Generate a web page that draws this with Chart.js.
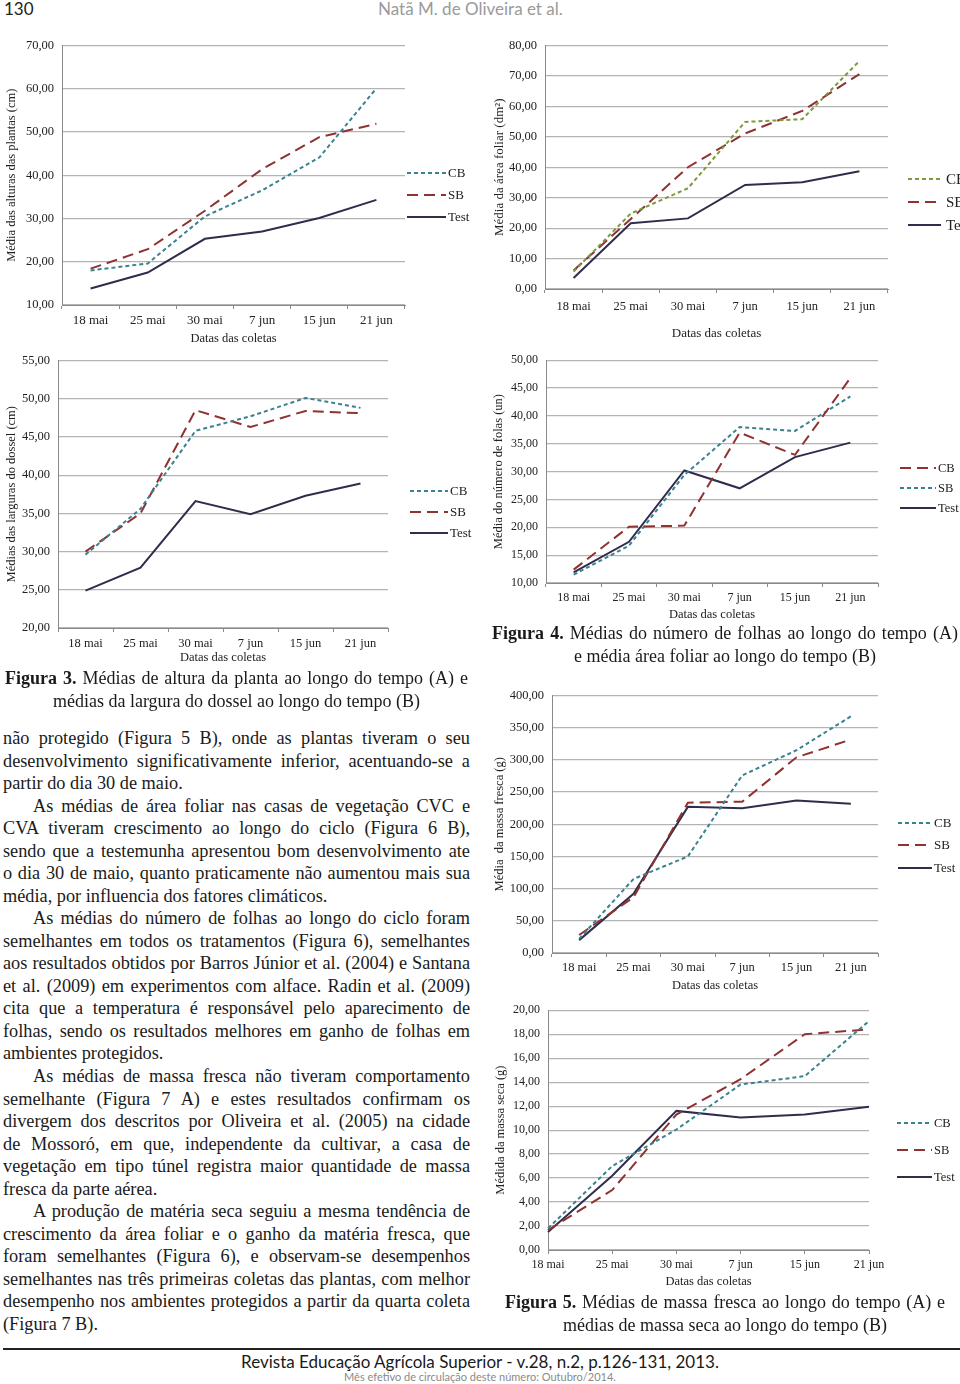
<!DOCTYPE html>
<html>
<head>
<meta charset="utf-8">
<script src="https://cdn.jsdelivr.net/npm/chart.js@4"></script>
<style>
  html, body { margin: 0; padding: 0; background: #fff; overflow: hidden; }
  body { width: 960px; height: 1384px; position: relative; font-family: "Liberation Serif", serif; color: #1a1a1a; }
  canvas { position: absolute; }
  .abs { position: absolute; white-space: nowrap; }
  .hdr { font-family: Lato, "Open Sans", sans-serif; }
  .txt { position: absolute; left: 3px; width: 467px; font-size: 18.3px; line-height: 22.54px; }
  .ln { white-space: nowrap; text-align: justify; text-align-last: justify; height: 22.54px; word-spacing: -2.5px; }
  .ln.last { text-align-last: left; word-spacing: 0; }
  .ln.ind { padding-left: 30px; }
  .cap { position: absolute; font-size: 18px; line-height: 22.5px; text-align: center; }
  .cap .j { text-align: justify; text-align-last: justify; white-space: nowrap; word-spacing: -2px; }
</style>
</head>
<body>

<div class="abs hdr" style="left:4px; top:-2px; font-size:17px; color:#222;">130</div>
<div class="abs hdr" style="left:378px; top:-2px; font-size:17px; color:#9a9a9a;">Natã M. de Oliveira et al.</div>

<canvas id="alturaChart" width="480" height="320" style="left:0; top:30px;"></canvas>
<canvas id="dosselChart" width="480" height="320" style="left:0; top:345px;"></canvas>
<canvas id="areaChart" width="475" height="320" style="left:485px; top:30px;"></canvas>
<canvas id="folhasChart" width="475" height="280" style="left:485px; top:345px;"></canvas>
<canvas id="frescaChart" width="475" height="320" style="left:485px; top:680px;"></canvas>
<canvas id="secaChart" width="475" height="295" style="left:485px; top:995px;"></canvas>

<div class="cap" style="left:5px; top:667px; width:463px;">
  <div class="j"><b>Figura 3.</b> Médias de altura da planta ao longo do tempo (A) e</div>
  <div>médias da largura do dossel ao longo do tempo (B)</div>
</div>

<div class="cap" style="left:492px; top:622px; width:466px;">
  <div class="j"><b>Figura 4.</b> Médias do número de folhas ao longo do tempo (A)</div>
  <div>e média área foliar ao longo do tempo (B)</div>
</div>

<div class="cap" style="left:505px; top:1291px; width:440px;">
  <div class="j"><b>Figura 5.</b> Médias de massa fresca ao longo do tempo (A) e</div>
  <div>médias de massa seca ao longo do tempo (B)</div>
</div>

<div class="txt" style="top:727px;">
  <div class="ln">não protegido (Figura 5 B), onde as plantas tiveram o seu</div>
  <div class="ln">desenvolvimento significativamente inferior, acentuando-se a</div>
  <div class="ln last">partir do dia 30 de maio.</div>
  <div class="ln ind">As médias de área foliar nas casas de vegetação CVC e</div>
  <div class="ln">CVA tiveram crescimento ao longo do ciclo (Figura 6 B),</div>
  <div class="ln">sendo que a testemunha apresentou bom desenvolvimento ate</div>
  <div class="ln">o dia 30 de maio, quanto praticamente não aumentou mais sua</div>
  <div class="ln last">média, por influencia dos fatores climáticos.</div>
  <div class="ln ind">As médias do número de folhas ao longo do ciclo foram</div>
  <div class="ln">semelhantes em todos os tratamentos (Figura 6), semelhantes</div>
  <div class="ln">aos resultados obtidos por Barros Júnior et al. (2004) e Santana</div>
  <div class="ln">et al. (2009) em experimentos com alface. Radin et al. (2009)</div>
  <div class="ln">cita que a temperatura é responsável pelo aparecimento de</div>
  <div class="ln">folhas, sendo os resultados melhores em ganho de folhas em</div>
  <div class="ln last">ambientes protegidos.</div>
  <div class="ln ind">As médias de massa fresca não tiveram comportamento</div>
  <div class="ln">semelhante (Figura 7 A) e estes resultados confirmam os</div>
  <div class="ln">divergem dos descritos por Oliveira et al. (2005) na cidade</div>
  <div class="ln">de Mossoró, em que, independente da cultivar, a casa de</div>
  <div class="ln">vegetação em tipo túnel registra maior quantidade de massa</div>
  <div class="ln last">fresca da parte aérea.</div>
  <div class="ln ind">A produção de matéria seca seguiu a mesma tendência de</div>
  <div class="ln">crescimento da área foliar e o ganho da matéria fresca, que</div>
  <div class="ln">foram semelhantes (Figura 6), e observam-se desempenhos</div>
  <div class="ln">semelhantes nas três primeiras coletas das plantas, com melhor</div>
  <div class="ln">desempenho nos ambientes protegidos a partir da quarta coleta</div>
  <div class="ln last">(Figura 7 B).</div>
</div>

<div style="position:absolute; left:3px; top:1348px; width:957px; height:2px; background:#222;"></div>
<div class="abs hdr" style="left:0; width:960px; text-align:center; top:1351px; font-size:17px; color:#1a1a1a;">Revista Educação Agrícola Superior - v.28, n.2, p.126-131, 2013.</div>
<div class="abs hdr" style="left:0; width:960px; text-align:center; top:1370px; font-size:11px; color:#8a8a8a;">Mês efetivo de circulação deste número: Outubro/2014.</div>

<script>
// ===== dados =====
const coletas = ["18 mai", "25 mai", "30 mai", "7 jun", "15 jun", "21 jun"];

// Figura 3 A - altura das plantas (cm)
const alturaCB   = [18.0, 19.6, 30.5, 36.5, 44.1, 60.1];
const alturaSB   = [18.4, 22.9, 31.8, 41.4, 48.8, 51.9];
const alturaTest = [13.8, 17.5, 25.3, 27.0, 30.1, 34.3];

// Figura 3 B - largura do dossel (cm)
const dosselCB   = [29.6, 35.6, 45.8, 47.7, 50.1, 48.8];
const dosselSB   = [30.0, 35.0, 48.5, 46.3, 48.4, 48.1];
const dosselTest = [24.9, 27.9, 36.6, 34.9, 37.3, 38.9];

// Figura 4 B - area foliar (dm2)
const areaCB   = [5.7, 24.8, 33.1, 54.9, 55.8, 74.9];
const areaSB   = [6.1, 23.0, 40.0, 51.1, 58.5, 70.6];
const areaTest = [3.6, 21.6, 23.2, 34.2, 35.1, 38.7];

// Figura 4 A - numero de folhas (un)
const folhasCB   = [12.4, 20.1, 20.3, 37.0, 33.0, 46.8];
const folhasSB   = [11.5, 16.7, 29.4, 38.0, 37.3, 43.5];
const folhasTest = [11.9, 17.4, 30.2, 27.0, 32.6, 35.2];

// Figura 5 A - massa fresca (g)
const frescaCB   = [22, 115, 150, 275.8, 315, 367.5];
const frescaSB   = [28, 86.6, 233.5, 235, 304, 331.5];
const frescaTest = [20, 92, 227, 224.8, 237, 232];

// Figura 5 B - massa seca (g)
const secaCB   = [1.8, 7.0, 10.05, 13.8, 14.5, 19.1];
const secaSB   = [1.65, 5.0, 11.3, 14.25, 18.0, 18.4];
const secaTest = [1.5, 6.2, 11.6, 11.05, 11.3, 11.95];

// ===== estilos =====
const TEAL = "#3a8290";
const OLIVE = "#7a9a3c";
const RED = "#8e3232";
const NAVY = "#302d4c";
const GRID = "#b4b4b4";

function shortDash(label, data, color) {
    return { label: label, data: data, borderColor: color, borderWidth: 2, borderDash: [4, 3], pointRadius: 0, fill: false, tension: 0 };
}
function longDash(label, data) {
    return { label: label, data: data, borderColor: RED, borderWidth: 2, borderDash: [11, 6], pointRadius: 0, fill: false, tension: 0 };
}
function solid(label, data) {
    return { label: label, data: data, borderColor: NAVY, borderWidth: 2, pointRadius: 0, fill: false, tension: 0 };
}

// legenda desenhada ao lado (estilo Excel)
const sideLegend = {
    id: "sideLegend",
    afterDraw(chart, args, opts) {
        const ctx = chart.ctx;
        chart.data.datasets.forEach((ds, i) => {
            const y = opts.ys[i];
            ctx.save();
            ctx.strokeStyle = ds.borderColor;
            ctx.lineWidth = ds.borderWidth;
            ctx.setLineDash(ds.borderDash || []);
            ctx.beginPath();
            ctx.moveTo(opts.x0, y);
            ctx.lineTo(opts.x1, y);
            ctx.stroke();
            ctx.setLineDash([]);
            ctx.fillStyle = "#222";
            ctx.font = opts.size + "px 'Liberation Serif'";
            ctx.textBaseline = "middle";
            ctx.fillText(ds.label, opts.x1 + (opts.gap || 2), y + 1);
            ctx.restore();
        });
    }
};

function fmt(v) {
    return v.toFixed(2).replace(".", ",");
}

function makeChart(id, datasets, s) {
    new Chart(document.getElementById(id), {
        type: "line",
        data: { labels: coletas, datasets: datasets },
        plugins: [sideLegend],
        options: {
            responsive: false,
            animation: false,
            devicePixelRatio: 1,
            layout: { padding: { top: s.padTop, right: s.padRight, left: 0, bottom: 0 } },
            plugins: {
                legend: { display: false },
                tooltip: { enabled: false },
                sideLegend: s.legend
            },
            scales: {
                x: {
                    offset: s.offset,
                    afterFit: (sc) => { sc.height = s.xH; },
                    grid: { drawOnChartArea: false, drawTicks: true, tickLength: 4, offset: s.offset, color: "#8a8a8a" },
                    border: { display: true, color: "#8a8a8a" },
                    ticks: { color: "#222", padding: s.xPad, maxRotation: 0, font: { family: "Liberation Serif", size: s.xFont } },
                    title: { display: true, text: "Datas das coletas", color: "#222", padding: { top: 0, bottom: s.xTitlePad }, font: { family: "Liberation Serif", size: s.titleSize } }
                },
                y: {
                    min: s.min, max: s.max,
                    afterFit: (sc) => { sc.width = s.yW; },
                    grid: { color: GRID, lineWidth: 1.2, drawTicks: false },
                    border: { display: true, color: "#8a8a8a" },
                    ticks: { stepSize: s.step, color: "#222", padding: 8, callback: fmt, font: { family: "Liberation Serif", size: s.font } },
                    title: { display: true, text: s.yTitle, color: "#222", padding: { top: s.yTitlePad, bottom: 0 }, font: { family: "Liberation Serif", size: s.titleSize } }
                }
            }
        }
    });
}

// ================= FIGURA 3 A =================
makeChart("alturaChart", [shortDash("CB", alturaCB, TEAL), longDash("SB", alturaSB), solid("Test", alturaTest)], {
    padTop: 13, padRight: 75, yW: 62, xH: 45, xPad: 4, xTitlePad: 4, font: 12.5, xFont: 13, titleSize: 12.5,
    min: 10, max: 70, step: 10, offset: true, yTitle: "Média das alturas das plantas (cm)", yTitlePad: 4,
    legend: { x0: 407, x1: 446, ys: [143, 165, 187], size: 13 }
});

// ================= FIGURA 3 B =================
makeChart("dosselChart", [shortDash("CB", dosselCB, TEAL), longDash("SB", dosselSB), solid("Test", dosselTest)], {
    padTop: 12, padRight: 92, yW: 58, xH: 37, xPad: 4, xTitlePad: 0, font: 12.5, xFont: 12.5, titleSize: 12.5,
    min: 20, max: 55, step: 5, offset: true, yTitle: "Médias das larguras do dossel (cm)", yTitlePad: 4,
    legend: { x0: 410, x1: 448, ys: [146, 167, 188], size: 13 }
});

// ================= FIGURA 4 B =================
makeChart("areaChart", [shortDash("CB", areaCB, OLIVE), longDash("SB", areaSB), solid("Test", areaTest)], {
    padTop: 13, padRight: 72, yW: 60, xH: 61, xPad: 6, xTitlePad: 9, font: 12.5, xFont: 12.5, titleSize: 13,
    min: 0, max: 80, step: 10, offset: true, yTitle: "Média da área foliar (dm²)", yTitlePad: 7,
    legend: { x0: 423, x1: 456, gap: 5, ys: [149, 172, 195], size: 15 }
});

// ================= FIGURA 4 A =================
makeChart("folhasChart", [longDash("CB", folhasCB), shortDash("SB", folhasSB, TEAL), solid("Test", folhasTest)], {
    padTop: 8, padRight: 82, yW: 61, xH: 42, xPad: 4, xTitlePad: 3, font: 12, xFont: 12, titleSize: 12.5,
    min: 10, max: 50, step: 5, offset: true, yTitle: "Média do número de folas (un)", yTitlePad: 6,
    legend: { x0: 415, x1: 451, ys: [123, 143, 163], size: 12.5 }
});

// ================= FIGURA 5 A =================
makeChart("frescaChart", [shortDash("CB", frescaCB, TEAL), longDash("SB", frescaSB), solid("Test", frescaTest)], {
    padTop: 14, padRight: 82, yW: 67, xH: 47, xPad: 3, xTitlePad: 7, font: 12.5, xFont: 12.5, titleSize: 12.5,
    min: 0, max: 400, step: 50, offset: true, yTitle: "Média  da massa fresca (g)", yTitlePad: 7,
    legend: { x0: 413, x1: 447, ys: [143, 165, 188], size: 13 }
});

// ================= FIGURA 5 B =================
makeChart("secaChart", [shortDash("CB", secaCB, TEAL), longDash("SB", secaSB), solid("Test", secaTest)], {
    padTop: 9, padRight: 91, yW: 63, xH: 40, xPad: 4, xTitlePad: 1, font: 12, xFont: 12, titleSize: 12.5,
    min: 0, max: 20, step: 2, offset: false, yTitle: "Médida da massa seca (g)", yTitlePad: 8,
    legend: { x0: 412, x1: 447, ys: [128, 155, 182], size: 12.5 }
});
</script>
</body>
</html>
